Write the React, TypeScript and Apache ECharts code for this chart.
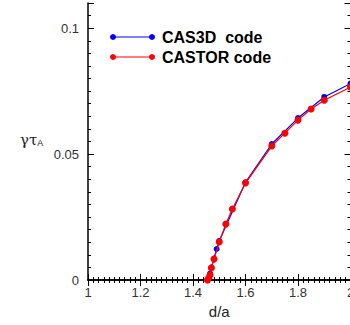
import React, { useEffect, useRef } from "react";
import * as echarts from "echarts";

const seriesNames = ["CAS3D  code", "CASTOR code"];
const cas3dX = [1.46, 1.465, 1.47, 1.48, 1.49, 1.5, 1.6, 1.7, 1.8, 1.9, 2.0];
const cas3dY = [0.0005, 0.0025, 0.005, 0.0085, 0.0123, 0.0155, 0.0388, 0.054, 0.0643, 0.0727, 0.078];
const castorX = [1.455, 1.46, 1.465, 1.47, 1.48, 1.5, 1.525, 1.55, 1.6, 1.7, 1.75, 1.8, 1.85, 1.9, 2.0];
const castorY = [0, 0.0008, 0.002, 0.0048, 0.0083, 0.0151, 0.0222, 0.0282, 0.0385, 0.0532, 0.0583, 0.0635, 0.0679, 0.0714, 0.0766];
const yMajorTicks = [0, 0.05, 0.1];
const xTickLabels = ["1", "1.2", "1.4", "1.6", "1.8", "2"];

const zip = (xs: number[], ys: number[]) => xs.map((x, i) => [x, ys[i]]);

export default function App() {
  const ref = useRef<HTMLDivElement>(null);
  useEffect(() => {
    if (!ref.current) return;
    const chart = echarts.init(ref.current, null, { renderer: "svg" });
    const font = "'Liberation Sans', Arial, sans-serif";
    const isMajorY = (v: number) => yMajorTicks.some((t) => Math.abs(t - v) < 1e-9);
    const xAxisBase = {
      type: "value",
      min: 1,
      max: 2,
      interval: 0.2,
      axisLine: { show: true, lineStyle: { color: "#000", width: 1.5 } },
      axisTick: { show: true, inside: true, length: 6, lineStyle: { color: "#000", width: 1 } },
      minorTick: { show: true, splitNumber: 10, length: 3, lineStyle: { color: "#000", width: 1 } },
      splitLine: { show: false },
      minorSplitLine: { show: false },
    };
    const yMinorBase = {
      type: "value",
      min: 0,
      max: 0.11,
      interval: 0.005,
      axisLine: { show: true, lineStyle: { color: "#000", width: 1.5 } },
      axisTick: { show: true, inside: true, length: 3, lineStyle: { color: "#000", width: 1 } },
      splitLine: { show: false },
    };
    const yMajorBase = {
      type: "value",
      min: 0,
      max: 0.11,
      interval: 0.05,
      axisLine: { show: false },
      axisTick: { show: true, inside: true, length: 6, lineStyle: { color: "#000", width: 1 } },
      axisLabel: { show: false },
      splitLine: { show: false },
    };
    const legendItem = (y: number, color: string, name: string) => [
      { type: "line", shape: { x1: 113, y1: y, x2: 152, y2: y }, style: { stroke: color, lineWidth: 1.2 }, z: 100 },
      { type: "circle", shape: { cx: 113, cy: y, r: 3 }, style: { fill: color }, z: 100 },
      { type: "circle", shape: { cx: 152, cy: y, r: 3 }, style: { fill: color }, z: 100 },
      {
        type: "text",
        x: 162,
        y: y,
        style: { text: name, fill: "#000", font: `bold 16px ${font}`, textVerticalAlign: "middle" },
        z: 100,
      },
    ];
    chart.setOption({
      animation: false,
      backgroundColor: "#fff",
      grid: { left: 88, top: 3, width: 262.5, height: 277, containLabel: false, outerBoundsMode: "none" },
      xAxis: [
        {
          ...xAxisBase,
          position: "bottom",
          name: "d/a",
          nameLocation: "middle",
          nameGap: 22,
          nameTextStyle: { fontSize: 15, color: "#222", fontFamily: font, verticalAlign: "top" },
          axisLabel: {
            show: true,
            margin: 6,
            fontSize: 13,
            color: "#333",
            fontFamily: font,
            formatter: (v: number) => xTickLabels[Math.round((v - 1) / 0.2)] ?? "",
          },
        },
        { ...xAxisBase, position: "top", axisLabel: { show: false } },
      ],
      yAxis: [
        {
          ...yMinorBase,
          position: "left",
          axisLabel: {
            show: true,
            margin: 9,
            fontSize: 13,
            color: "#333",
            fontFamily: font,
            formatter: (v: number) => (isMajorY(v) ? String(parseFloat(v.toFixed(3))) : ""),
          },
        },
        { ...yMinorBase, position: "right", axisLabel: { show: false } },
        { ...yMajorBase, position: "left" },
        { ...yMajorBase, position: "right" },
      ],
      series: [
        {
          name: seriesNames[0],
          type: "line",
          data: zip(cas3dX, cas3dY),
          symbol: "circle",
          symbolSize: 6,
          itemStyle: { color: "#0000ff" },
          lineStyle: { color: "#0000ff", width: 1.2 },
          z: 2,
        },
        {
          name: seriesNames[1],
          type: "line",
          data: zip(castorX, castorY),
          symbol: "circle",
          symbolSize: 7,
          itemStyle: { color: "#ff0000" },
          lineStyle: { color: "#ff0000", width: 1.2 },
          z: 3,
        },
      ],
      graphic: [
        ...legendItem(37, "#0000ff", seriesNames[0]),
        ...legendItem(57, "#ff0000", seriesNames[1]),
        {
          type: "text",
          x: 20,
          y: 140,
          style: {
            text: "{g|γτ}{s|A}",
            rich: {
              g: { fontSize: 15, fontFamily: "'DejaVu Serif', serif", fill: "#222", verticalAlign: "bottom" },
              s: { fontSize: 9, fontFamily: font, fill: "#222", padding: [6, 0, 0, 0] },
            },
            textVerticalAlign: "middle",
          },
        },
      ],
    });
    return () => chart.dispose();
  }, []);
  return (
    <div style={{ position: "fixed", left: 0, top: 0, width: 350, height: 325, overflow: "hidden", background: "#fff" }}>
      <div ref={ref} style={{ width: 380, height: 325 }} />
    </div>
  );
}
